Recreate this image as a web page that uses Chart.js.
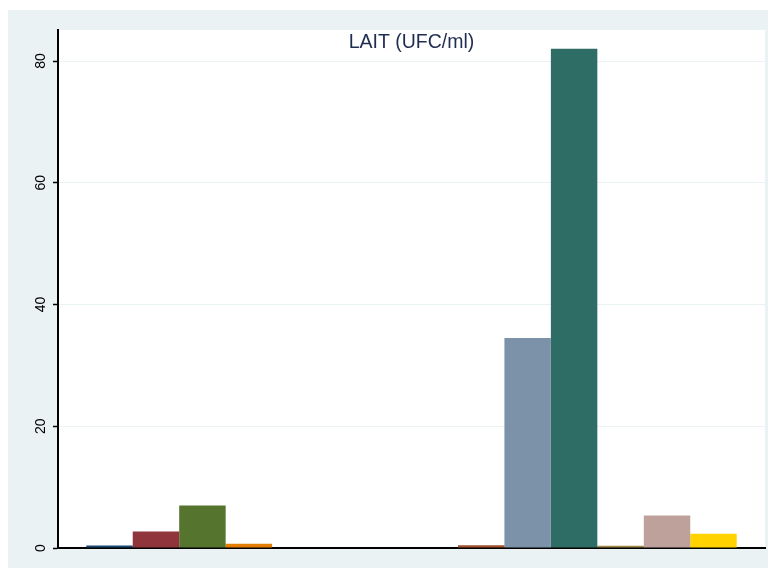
<!DOCTYPE html>
<html>
<head>
<meta charset="utf-8">
<title>LAIT (UFC/ml)</title>
<script src="https://cdn.jsdelivr.net/npm/chart.js@4/dist/chart.umd.min.js"></script>
<style>
  html, body { margin: 0; padding: 0; background: #ffffff; }
  #wrap { position: absolute; left: 0; top: 0; width: 773px; height: 568px; }
</style>
</head>
<body>
<div id="wrap"><canvas id="chart-0" width="773" height="568"></canvas></div>
<script>
// data (one category, 14 bars side by side)
var categories = ['LAIT (UFC/ml)'];
var seriesNames = ['S1', 'S2', 'S3', 'S4', 'S5', 'S6', 'S7', 'S8', 'S9', 'S10', 'S11', 'S12', 'S13', 'S14'];
var seriesValues = [0.4, 2.7, 7.0, 0.7, 0, 0, 0, 0, 0.45, 34.5, 82.0, 0.35, 5.35, 2.35];
var yTicks = [0, 20, 40, 60, 80];
var chartTitle = 'LAIT (UFC/ml)';

// stata s2color palette, in order
var palette = ['#1a476f', '#90353b', '#55752f', '#e37e00', '#6e8e84', '#c10534', '#938dd2',
               '#cac27e', '#a0522d', '#7b92a8', '#2d6d66', '#9c8847', '#bfa19c', '#ffd200'];

document.addEventListener('DOMContentLoaded', function() {

  // graph region (bluish) + plot region (white), then the title inside the plot region
  var stataBackground = {
    id: 'stataBackground',
    beforeDraw: function(chart) {
      var ctx = chart.ctx, a = chart.chartArea;
      ctx.save();
      ctx.fillStyle = '#ffffff';
      ctx.fillRect(0, 0, chart.width, chart.height);
      ctx.fillStyle = '#eaf2f3';
      ctx.fillRect(8, 10, chart.width - 13, chart.height - 10);
      ctx.fillStyle = '#ffffff';
      ctx.fillRect(a.left, a.top, a.right - a.left, a.bottom - a.top);
      ctx.restore();
    },
    afterDraw: function(chart) {
      var ctx = chart.ctx, a = chart.chartArea;
      ctx.save();
      ctx.font = '19.5px "Liberation Sans", Arial, sans-serif';
      ctx.fillStyle = '#1f2d50';
      ctx.textAlign = 'center';
      ctx.textBaseline = 'middle';
      ctx.fillText(chartTitle, (a.left + a.right) / 2, a.top + 13);
      ctx.restore();
    }
  };

  var datasets = seriesNames.map(function(name, i) {
    return {
      label: name,
      data: [seriesValues[i]],
      backgroundColor: palette[i],
      borderWidth: 0,
      barPercentage: 1.0,
      categoryPercentage: 0.92
    };
  });

  var chart0 = new Chart(document.getElementById('chart-0'), {
    type: 'bar',
    data: { labels: categories, datasets: datasets },
    plugins: [stataBackground],
    options: {
      responsive: false,
      animation: false,
      devicePixelRatio: 1,
      layout: { padding: { left: 8, top: 30, right: 8, bottom: 20 } },
      plugins: {
        legend: { display: false },
        title: { display: false },
        tooltip: { enabled: false }
      },
      scales: {
        x: {
          grid: { display: false },
          ticks: { display: false },
          border: { display: true, color: '#000000', width: 2 },
          afterFit: function(s) { s.height = 0; }
        },
        y: {
          min: 0,
          max: 85.1,
          afterBuildTicks: function(s) {
            s.ticks = yTicks.map(function(v) { return { value: v }; });
          },
          afterFit: function(s) { s.width = 50; },
          grid: { color: '#eaf2f3', lineWidth: 1, tickLength: 5, tickColor: '#000000', tickWidth: 1.5 },
          border: { display: true, color: '#000000', width: 2 },
          ticks: {
            minRotation: 90,
            maxRotation: 90,
            crossAlign: 'center',
            padding: 4,
            color: '#000000',
            font: { family: '"Liberation Sans", Arial, sans-serif', size: 14 }
          }
        }
      }
    }
  });
});
</script>
</body>
</html>
